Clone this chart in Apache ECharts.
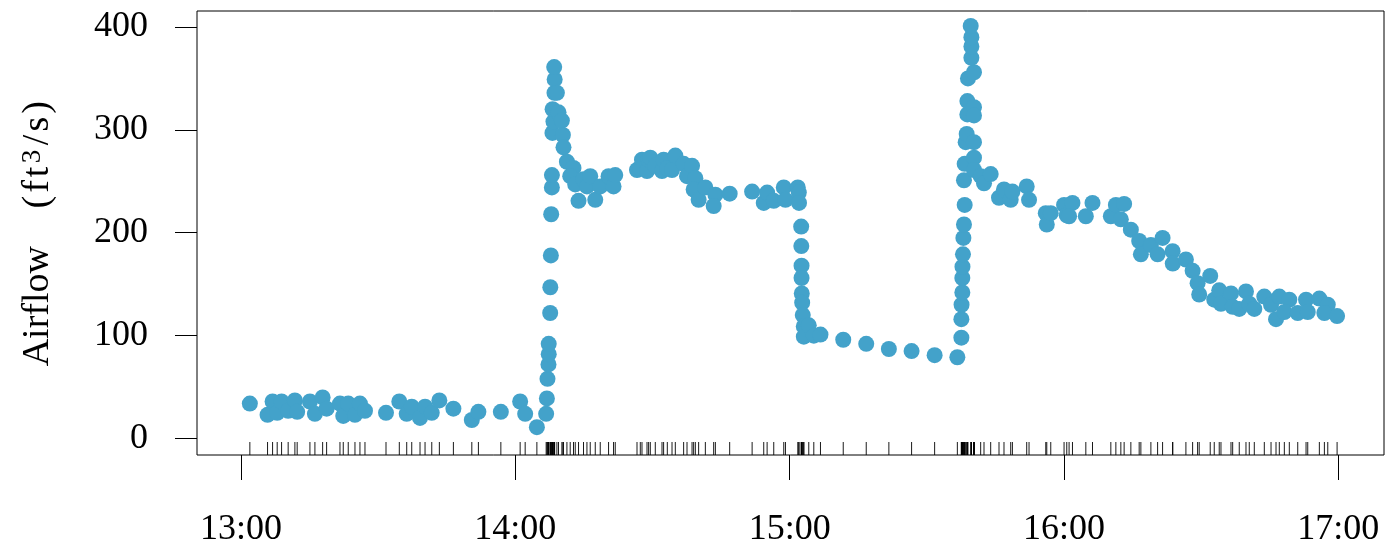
<!DOCTYPE html>
<html>
<head>
<meta charset="utf-8">
<script src="https://cdn.jsdelivr.net/npm/echarts@6/dist/echarts.min.js"></script>
<style>
html,body{margin:0;padding:0;background:#fff;}
#chart{width:1386px;height:545px;}
</style>
</head>
<body>
<div id="chart"></div>
<script>
// minutes after 13:00
const times = [
  1.93, 5.80, 6.90, 7.91, 8.87, 10.31, 11.78, 12.28, 15.07, 16.16, 17.85, 18.72, 21.64, 22.36, 23.45, 24.92,
  26.01, 27.11, 31.71, 34.62, 36.24, 37.34, 39.15, 40.25, 41.72, 43.38, 46.45, 50.48, 51.92, 56.83, 61.05, 62.15, 64.71,
  66.74, 66.90, 67.03, 67.25, 67.30, 67.30, 67.62, 67.65, 67.77, 67.84, 67.99, 68.00, 68.12, 68.34, 68.15, 68.56, 68.60, 68.50,
  69.09, 69.44, 70.18, 70.40, 70.53, 71.28, 72.72, 72.00, 73.10, 73.82, 74.91, 75.66, 76.38, 77.48, 78.57, 80.39, 81.48, 81.85,
  86.61, 87.33, 87.70, 88.80, 89.15, 89.52, 90.61, 92.08, 92.43, 93.24, 94.27, 94.99, 96.81, 97.55, 98.65, 99.37, 99.00,
  100.09, 101.56, 103.75, 103.38, 106.88, 111.79, 114.33, 115.07, 116.52, 118.71, 119.08, 121.78, 122.00, 122.05,
  122.52, 122.55, 122.60, 122.60, 122.65, 122.74, 122.87, 123.09, 123.10, 124.18, 125.28,
  126.74, 131.72, 136.75, 141.70, 146.67, 151.71, 156.68,
  157.56, 157.56, 157.60, 157.77, 157.77, 157.80, 157.91, 158.00, 158.13, 158.28, 158.13, 158.28, 158.50, 158.72, 158.87, 158.87,
  160.32, 160.32, 159.00, 160.32, 159.75, 159.75, 159.75, 159.60, 160.32, 160.32, 160.32, 161.78, 162.51, 163.97, 165.79, 166.88,
  168.35, 168.72, 171.85, 172.36, 176.02, 176.24,
  177.11, 180.02, 180.61, 181.86, 181.12, 184.78, 186.24, 190.25, 191.35, 193.16, 192.44, 194.63, 196.45, 196.82, 199.01, 200.48,
  201.57, 203.76, 203.80, 206.67, 208.14, 209.23, 209.58, 211.99, 212.87, 213.96, 214.34, 216.53, 216.90, 218.34, 219.81, 220.53,
  221.63, 223.82, 225.29, 227.10, 226.38, 229.29, 228.20, 231.13, 232.95, 233.32, 235.86, 237.70, 236.96, 239.74
];
// airflow (ft^3/s)
const airflow = [
  34, 23, 36, 25, 36, 27, 37, 26, 36, 24, 40, 29, 34, 22, 34, 23,
  34, 27, 25, 36, 24, 31, 20, 31, 25, 37, 29, 18, 26, 26, 36, 24, 11,
  24, 39, 58, 72, 82, 92, 122, 147, 178, 218, 244, 256, 297, 308, 320, 336, 349, 361,
  336, 317, 309, 295, 283, 269, 263, 255, 247, 231, 252, 245, 255, 232, 245, 255, 245, 256,
  261, 263, 271, 260, 271, 273, 265, 260, 271, 263, 261, 275, 267, 255, 265, 253, 242,
  232, 244, 237, 226, 238, 240, 229, 239, 231, 244, 232, 244, 239, 229,
  206, 187, 168, 156, 141, 132, 120, 109, 99, 110, 100,
  101, 96, 92, 87, 85, 81, 79,
  98, 116, 130, 142, 156, 167, 179, 195, 208, 227, 251, 267, 288, 296, 315, 328,
  322, 314, 350, 356, 370, 381, 390, 401, 288, 273, 261, 255, 248, 257, 234, 242,
  232, 240, 245, 232, 219, 208,
  219, 227, 217, 229, 216, 216, 229, 216, 227, 228, 213, 203, 192, 179, 188, 179,
  195, 182, 170, 174, 163, 151, 140, 158, 135, 144, 131, 141, 128, 126, 143, 131,
  126, 138, 130, 138, 116, 135, 123, 122, 135, 123, 136, 130, 122, 119
];
const xTickValues = [0, 60, 120, 180, 240];
const xTickLabels = ['13:00', '14:00', '15:00', '16:00', '17:00'];
const yTickValues = [0, 100, 200, 300, 400];
const yTickLabels = ['0', '100', '200', '300', '400'];

const font = '"Liberation Serif", "DejaVu Serif", serif';
const rugY = -9.6;

const chart = echarts.init(document.getElementById('chart'), null, {renderer: 'canvas'});
chart.setOption({
  animation: false,
  backgroundColor: '#fff',
  grid: {left: 197, right: 2, top: 11, bottom: 90, show: true, borderColor: '#000', borderWidth: 1,
         containLabel: false, outerBoundsMode: 'none'},
  xAxis: {
    type: 'value', min: -9.63, max: 250.0,
    splitLine: {show: false},
    axisLine: {show: false, onZero: false},
    axisTick: {show: true, inside: false, length: 25, customValues: xTickValues, lineStyle: {color: '#000', width: 1}},
    axisLabel: {
      show: true, margin: 57, customValues: xTickValues,
      fontFamily: font, fontSize: 36, color: '#000',
      formatter: v => xTickLabels[xTickValues.indexOf(v)]
    }
  },
  yAxis: {
    type: 'value', min: -16, max: 415.5,
    name: '{t|Airflow}{g| }{p|(}{p|f}{p|t}{s|3}{p|/}{p|s}{p|)}', nameLocation: 'middle', nameRotate: 90, nameGap: 140,
    nameTextStyle: {
      fontFamily: font, fontSize: 36, color: '#000',
      rich: {
        t: {fontFamily: font, fontSize: 38, color: '#000'},
        g: {fontFamily: font, fontSize: 38, color: '#000', width: 36},
        p: {fontFamily: font, fontSize: 38, color: '#000', padding: [0, 1.5, 0, 1.5]},
        s: {fontFamily: font, fontSize: 27, color: '#000', verticalAlign: 'top', padding: [0, 3, 0, 2]}
      }
    },
    splitLine: {show: false},
    axisLine: {show: false, onZero: false},
    axisTick: {show: true, inside: false, length: 22, customValues: yTickValues, lineStyle: {color: '#000', width: 1}},
    axisLabel: {
      show: true, margin: 49, customValues: yTickValues,
      fontFamily: font, fontSize: 36, color: '#000',
      formatter: v => yTickLabels[yTickValues.indexOf(v)]
    }
  },
  series: [
    {
      type: 'scatter', name: 'rug', silent: true, z: 1,
      symbol: 'rect', symbolSize: [1, 13],
      itemStyle: {color: '#000', opacity: 0.9},
      data: times.map(t => [t, rugY])
    },
    {
      type: 'scatter', name: 'Airflow', silent: true, z: 2,
      symbol: 'circle', symbolSize: 16,
      itemStyle: {color: '#43a2ca', opacity: 1},
      data: times.map((t, i) => [t, airflow[i]])
    }
  ]
});
</script>
</body>
</html>
